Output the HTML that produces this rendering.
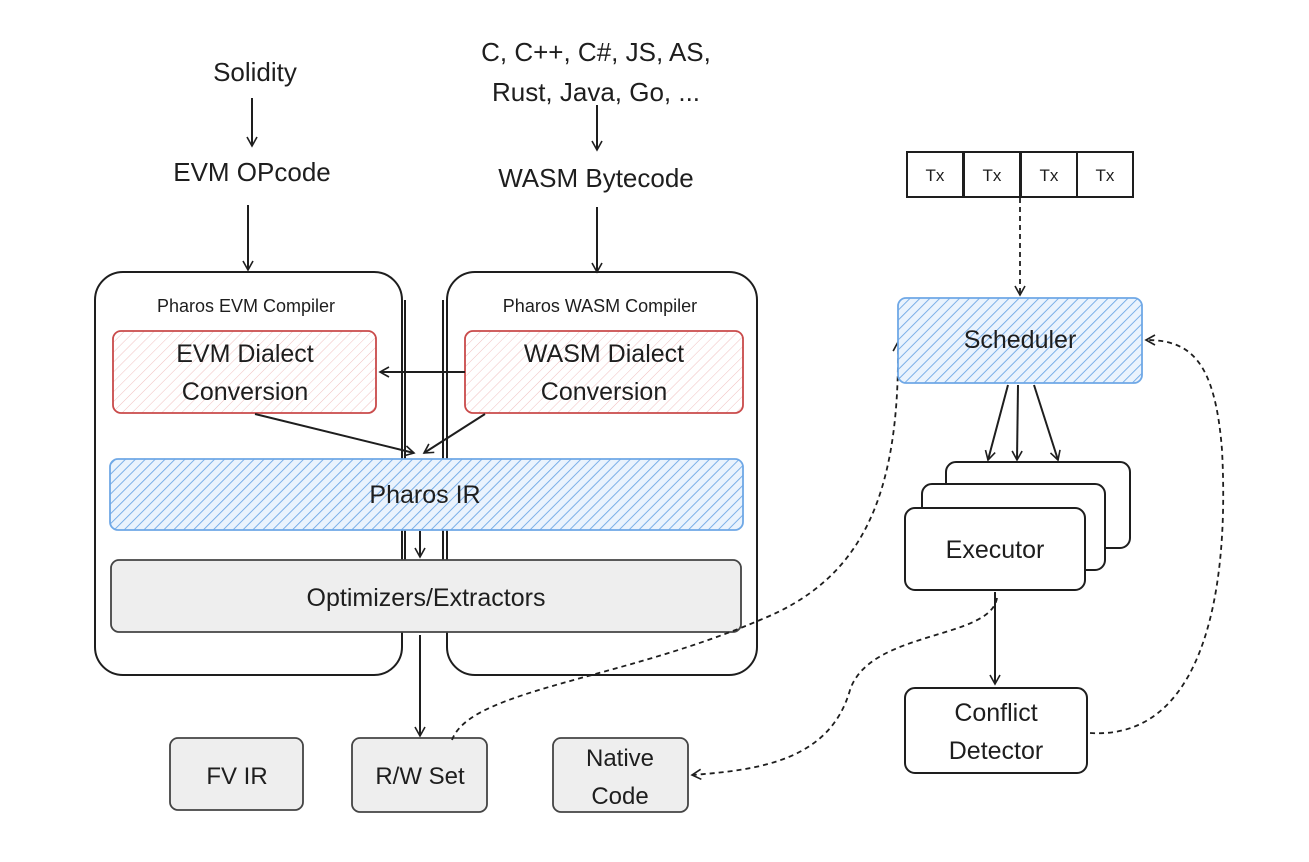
<!DOCTYPE html>
<html><head><meta charset="utf-8"><style>
html,body{margin:0;padding:0;background:#fff}
svg{display:block}
text{font-family:"Liberation Sans",sans-serif;fill:#1e1e1e}
</style></head><body>
<svg width="1309" height="862" viewBox="0 0 1309 862" xmlns="http://www.w3.org/2000/svg">
<defs>
<pattern id="hb" width="7" height="7" patternUnits="userSpaceOnUse" patternTransform="rotate(45)"><rect width="7" height="7" fill="#eaf3fd"/><line x1="0" y1="0" x2="0" y2="7" stroke="#6fa8e6" stroke-width="1.8"/></pattern>
<pattern id="hr" width="7" height="7" patternUnits="userSpaceOnUse" patternTransform="rotate(45)"><rect width="7" height="7" fill="#fff"/><line x1="0" y1="0" x2="0" y2="7" stroke="#f0c0c0" stroke-width="1"/></pattern>
<marker id="a" markerWidth="12" markerHeight="12" refX="10" refY="6" orient="auto" markerUnits="userSpaceOnUse"><path d="M1,1 L10,6 L1,11" fill="none" stroke="#1e1e1e" stroke-width="1.6"/></marker>
</defs>
<g font-size="26" text-anchor="middle">
<text x="255" y="81">Solidity</text>
<text x="252" y="181">EVM OPcode</text>
<text x="596" y="61">C, C++, C#, JS, AS,</text>
<text x="596" y="101">Rust, Java, Go, ...</text>
<text x="596" y="187">WASM Bytecode</text>
</g>
<g stroke="#1e1e1e" stroke-width="2" fill="none">
<line x1="252" y1="98" x2="252" y2="146" marker-end="url(#a)"/>
<line x1="248" y1="205" x2="248" y2="270" marker-end="url(#a)"/>
<line x1="597" y1="105" x2="597" y2="150" marker-end="url(#a)"/>
<line x1="597" y1="207" x2="597" y2="272" marker-end="url(#a)"/>
<rect x="95" y="272" width="307" height="403" rx="28"/>
<rect x="447" y="272" width="310" height="403" rx="28"/>
<line x1="405" y1="300" x2="405" y2="562"/><line x1="443" y1="300" x2="443" y2="562"/>
</g>
<g font-size="18" text-anchor="middle"><text x="246" y="312">Pharos EVM Compiler</text><text x="600" y="312">Pharos WASM Compiler</text></g>
<rect x="113" y="331" width="263" height="82" rx="8" fill="url(#hr)" stroke="#c94a4a" stroke-width="1.8"/>
<rect x="465" y="331" width="278" height="82" rx="8" fill="url(#hr)" stroke="#c94a4a" stroke-width="1.8"/>
<g font-size="25" text-anchor="middle"><text x="245" y="362">EVM Dialect</text><text x="245" y="400">Conversion</text><text x="604" y="362">WASM Dialect</text><text x="604" y="400">Conversion</text></g>
<g stroke="#1e1e1e" stroke-width="2" fill="none">
<line x1="465" y1="372" x2="380" y2="372" marker-end="url(#a)"/>
<line x1="255" y1="414" x2="414" y2="453" marker-end="url(#a)"/>
<line x1="485" y1="414" x2="424" y2="453" marker-end="url(#a)"/>
<line x1="420" y1="531" x2="420" y2="557" marker-end="url(#a)"/>
<line x1="420" y1="635" x2="420" y2="736" marker-end="url(#a)"/>
</g>
<rect x="110" y="459" width="633" height="71" rx="8" fill="url(#hb)" stroke="#6fa8e6" stroke-width="1.8"/>
<text x="425" y="503" font-size="25" text-anchor="middle">Pharos IR</text>
<rect x="111" y="560" width="630" height="72" rx="8" fill="#eeeeee" stroke="#444" stroke-width="1.8"/>
<text x="426" y="606" font-size="25" text-anchor="middle" fill="#333">Optimizers/Extractors</text>
<g fill="#eeeeee" stroke="#444" stroke-width="1.8">
<rect x="170" y="738" width="133" height="72" rx="8"/><rect x="352" y="738" width="135" height="74" rx="8"/><rect x="553" y="738" width="135" height="74" rx="8"/>
</g>
<g font-size="24" text-anchor="middle" fill="#333"><text x="237" y="784">FV IR</text><text x="420" y="784">R/W Set</text><text x="620" y="766">Native</text><text x="620" y="804">Code</text></g>
<g fill="#fff" stroke="#1e1e1e" stroke-width="2">
<rect x="907" y="152" width="56" height="45"/><rect x="964" y="152" width="56" height="45"/><rect x="1021" y="152" width="56" height="45"/><rect x="1077" y="152" width="56" height="45"/>
</g>
<g font-size="17" text-anchor="middle"><text x="935" y="181">Tx</text><text x="992" y="181">Tx</text><text x="1049" y="181">Tx</text><text x="1105" y="181">Tx</text></g>
<g stroke="#1e1e1e" stroke-width="1.8" fill="none" stroke-dasharray="5,4">
<line x1="1020" y1="198" x2="1020" y2="295" marker-end="url(#a)"/>
<path d="M452,740 C470,690 620,680 760,620 C860,580 900,500 898,342" marker-end="url(#a)"/>
<path d="M997,598 C990,640 870,630 850,690 C830,760 760,770 692,775" marker-end="url(#a)"/>
<path d="M1090,733 C1200,740 1230,600 1222,450 C1215,360 1190,340 1146,340" marker-end="url(#a)"/>
</g>
<rect x="898" y="298" width="244" height="85" rx="8" fill="url(#hb)" stroke="#6fa8e6" stroke-width="1.8"/>
<text x="1020" y="348" font-size="25" text-anchor="middle">Scheduler</text>
<g stroke="#1e1e1e" stroke-width="2" fill="none">
<line x1="1008" y1="385" x2="988" y2="460" marker-end="url(#a)"/>
<line x1="1018" y1="385" x2="1017" y2="460" marker-end="url(#a)"/>
<line x1="1034" y1="385" x2="1058" y2="460" marker-end="url(#a)"/>
</g>
<g fill="#fff" stroke="#1e1e1e" stroke-width="2">
<rect x="946" y="462" width="184" height="86" rx="10"/>
<rect x="922" y="484" width="183" height="86" rx="10"/>
<rect x="905" y="508" width="180" height="82" rx="10"/>
<rect x="905" y="688" width="182" height="85" rx="10"/>
</g>
<line x1="995" y1="592" x2="995" y2="684" stroke="#1e1e1e" stroke-width="2" marker-end="url(#a)"/>
<g font-size="25" text-anchor="middle"><text x="995" y="558">Executor</text><text x="996" y="721">Conflict</text><text x="996" y="759">Detector</text></g>
</svg>
</body></html>
